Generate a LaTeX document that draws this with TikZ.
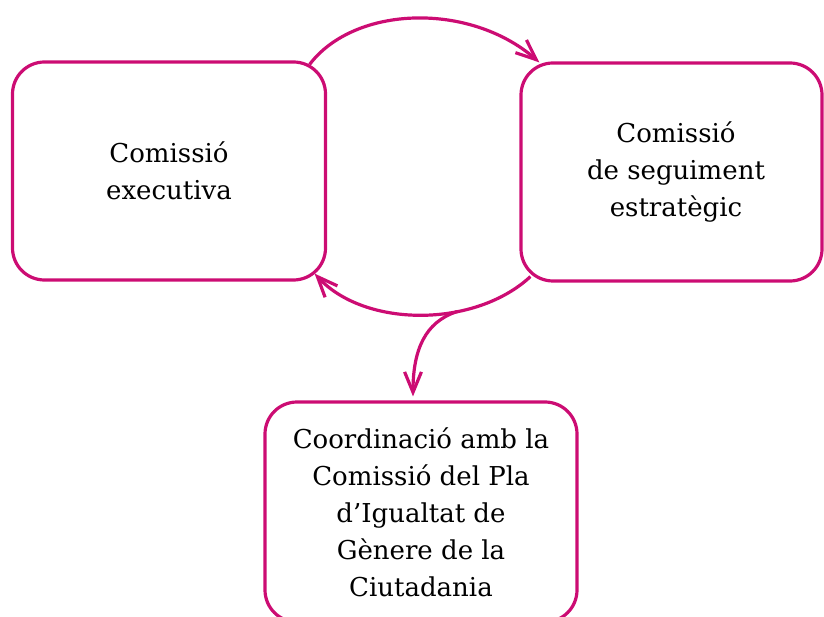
\documentclass[tikz,border=0pt]{standalone}
\usepackage{fontspec}
\setmainfont{DejaVu Serif}
\usetikzlibrary{arrows.meta}
\definecolor{mag}{RGB}{204,12,115}
\begin{document}
\begin{tikzpicture}[x=1pt,y=-1pt,
  box/.style={draw=mag,line width=3.2pt,rounded corners=32pt,align=center,
    font=\fontsize{26pt}{37pt}\selectfont,text=black,inner sep=0pt},
  conn/.style={draw=mag,line width=3.2pt,-{Straight Barb[angle=45:22pt]}}]
\useasboundingbox (0,0) rectangle (824,617);
\node[box,minimum width=313pt,minimum height=218pt] (b1) at (169,171) {Comissió\\executiva};
\node[box,minimum width=301pt,minimum height=218pt] (b2) at (671.5,172) {\hspace*{9pt}Comissió\\\hspace*{9pt}de seguiment\\\hspace*{9pt}estratègic};
\node[box,minimum width=312pt,minimum height=220pt] (b3) at (421,512) {Coordinació amb la\\Comissió del Pla\\d’Igualtat de\\Gènere de la\\Ciutadania};
\draw[conn] ([xshift=-17.5pt,yshift=-4pt]b1.north east) .. controls (355,5) and (470,2) .. ([xshift=20pt,yshift=-1pt]b2.north west);
\draw[conn] ([xshift=11pt,yshift=6pt]b2.south west) .. controls (475,328) and (365,328) .. ([xshift=-12.5pt,yshift=8pt]b1.south east) coordinate[pos=0.35] (br);
\draw[conn] (br) .. controls (425,322) and (413,350) .. ([xshift=-8pt,yshift=4pt]b3.north);
\end{tikzpicture}
\end{document}
